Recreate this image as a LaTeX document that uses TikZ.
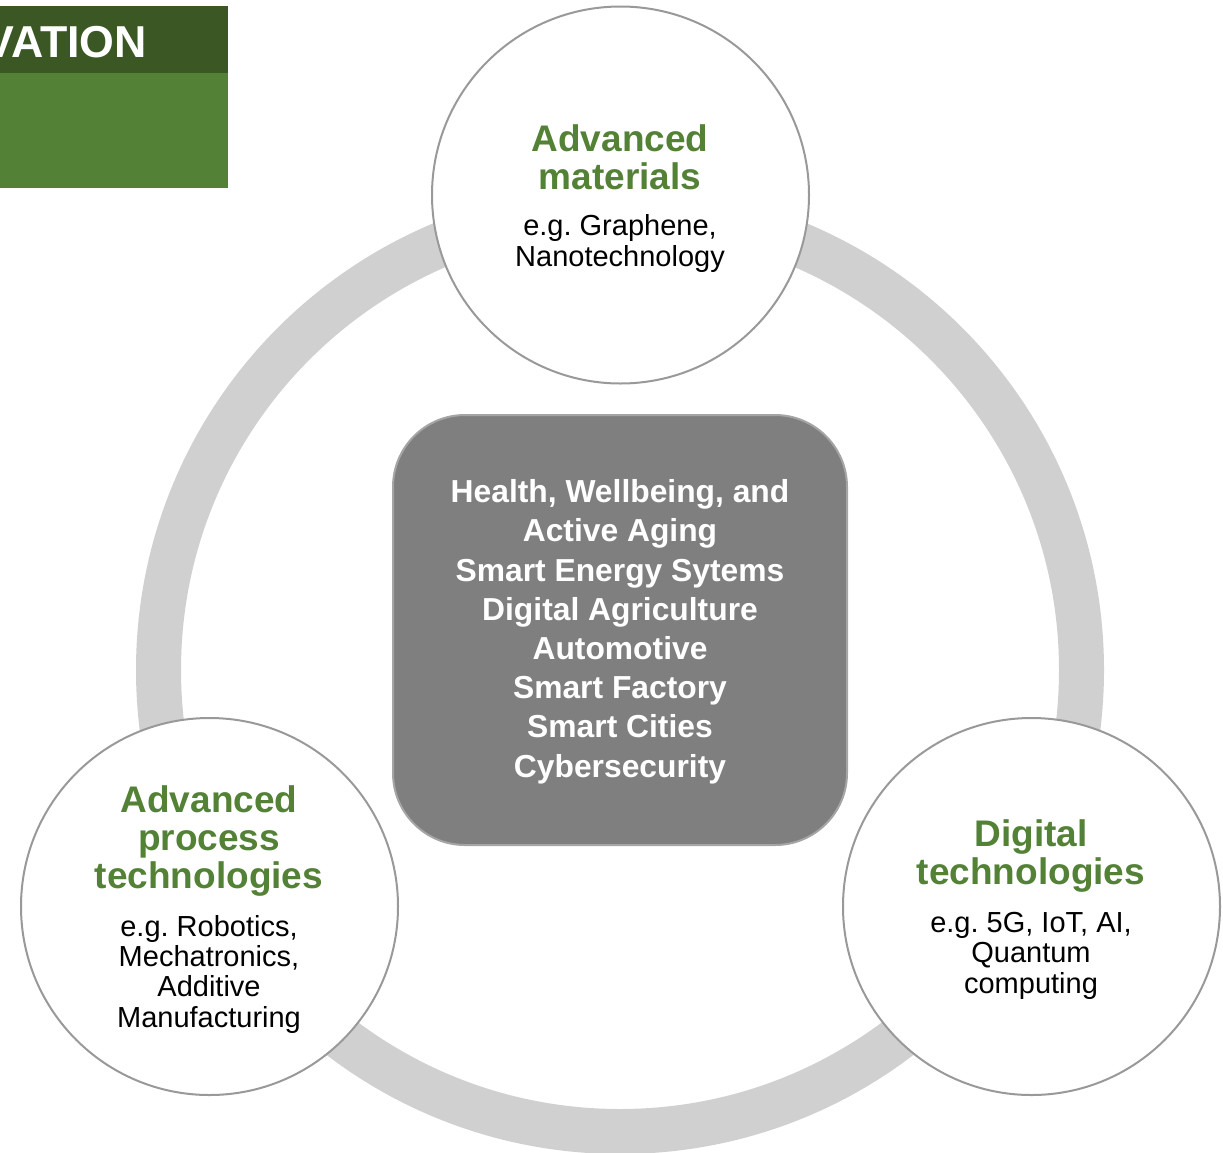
\documentclass[tikz,border=0pt]{standalone}
\usepackage{fontspec}
\setmainfont{Liberation Sans}
\frenchspacing
\definecolor{ringgray}{HTML}{D0D0D0}
\definecolor{boxgray}{HTML}{7F7F7F}
\definecolor{boxedge}{HTML}{A5A5A5}
\definecolor{circedge}{HTML}{999999}
\definecolor{titlegreen}{HTML}{538135}
\definecolor{darkgreen}{HTML}{3A5724}
\begin{document}
\begin{tikzpicture}[x=1pt,y=-1pt,
  techcircle/.style={circle,draw=circedge,fill=white,line width=2pt,minimum size=377pt,inner sep=0pt},
  techtitle/.style={text=titlegreen,align=center,inner sep=0pt,anchor=base,font=\bfseries\fontsize{37}{38}\selectfont},
  techbody/.style={text=black,align=center,inner sep=0pt,anchor=base,font=\frenchspacing\fontsize{29}{30.2}\selectfont},
  corebox/.style={draw=boxedge,fill=boxgray,line width=2pt,rounded corners=72pt,minimum width=454pt,minimum height=430pt,inner sep=0pt},
  coretext/.style={text=white,align=center,inner sep=0pt,anchor=base,font=\bfseries\fontsize{31.8}{39.2}\selectfont}]
\useasboundingbox (0,0) rectangle (1223,1152);
% header box
\fill[darkgreen] (0,6) rectangle (228,73);
\fill[titlegreen] (0,73) rectangle (228,187.5);
\begin{scope}
\clip (0,6) rectangle (228,73);
\node[anchor=base east,text=white,inner sep=0pt,font=\bfseries\fontsize{44.7}{48}\selectfont] (hdr) at (147,57) {VATION};
\end{scope}
% ring
\fill[ringgray,even odd rule] (620,670) circle[radius=484pt] (620,670) circle[radius=439pt];
% center box
\node[corebox] (core) at (620,630) {};
\node[coretext] (coretxt) at (620,777) {Health, Wellbeing, and\\Active Aging\\Smart Energy Sytems\\Digital Agriculture\\Automotive\\Smart Factory\\Smart Cities\\Cybersecurity};
% circles
\node[techcircle] (mat) at (620.5,195) {};
\node[techcircle] (proc) at (209.5,906.5) {};
\node[techcircle] (dig) at (1031.5,906.5) {};
% texts
\node[techtitle] (matT) at (620,189) {Advanced\\materials};
\node[techbody] (matB) at (620,266) {e.g. Graphene,\\Nanotechnology};
\node[techtitle] (procT) at (209,888) {Advanced\\process\\technologies};
\node[techbody] (procB) at (209,1027) {e.g. Robotics,\\Mechatronics,\\Additive\\Manufacturing};
\node[techtitle] (digT) at (1031,884) {Digital\\technologies};
\node[techbody] (digB) at (1031,993) {e.g. 5G, IoT, AI,\\Quantum\\computing};
\end{tikzpicture}
\end{document}
